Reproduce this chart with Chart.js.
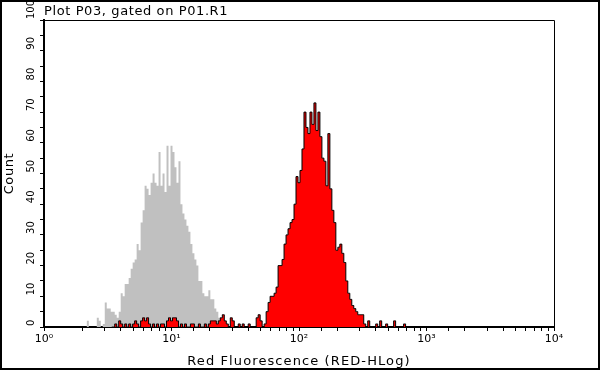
<!DOCTYPE html>
<html>
<head>
<meta charset="utf-8">
<script src="https://cdn.jsdelivr.net/npm/chart.js@4.4.1/dist/chart.umd.min.js"></script>
<style>
  body { margin: 0; background: #fff; }
  canvas { display: block; }
</style>
</head>
<body>
<canvas id="plot" width="600" height="371"></canvas>
<script>
// histogram channels: 64 per decade, 4 decades (10^0 .. 10^4)
const chPerDecade = 64;
const plotTitle = 'Plot P03, gated on P01.R1';
const xTitle = 'Red Fluorescence (RED-HLog)';
const yTitle = 'Count';
const xTickLabels = { 1: '10\u2070', 10: '10\u00b9', 100: '10\u00b2', 1000: '10\u00b3', 10000: '10\u2074' };

// control (gray), starts at channel 20
const grayFrom = 20;
const grayCounts = [
  0, 0, 2, 0, 0, 0, 0, 3, 2, 0,
  1, 8, 6, 6, 5, 5, 4, 3, 5, 11,
  10, 14, 14, 16, 19, 21, 22, 27, 25, 34,
  38, 46, 45, 43, 47, 50, 47, 46, 57, 46,
  50, 44, 59, 46, 59, 57, 52, 47, 54, 40,
  37, 35, 33, 31, 27, 24, 22, 20, 15, 15,
  11, 10, 10, 12, 9, 9, 6, 5, 3, 1,
  1, 0, 1, 0, 1, 0
];

// stained sample (red), starts at channel 34
const redFrom = 34;
const redCounts = [
  0, 0, 1, 0, 2, 1, 0, 1, 0, 1,
  0, 1, 2, 1, 0, 2, 3, 2, 3, 1,
  0, 1, 0, 1, 0, 1, 1, 0, 2, 3,
  2, 3, 3, 2, 0, 1, 0, 1, 0, 0,
  1, 1, 0, 0, 1, 0, 0, 1, 0, 1,
  2, 2, 2, 1, 2, 3, 4, 2, 1, 0,
  3, 2, 0, 0, 1, 0, 1, 0, 0, 1,
  0, 0, 0, 3, 4, 2, 0, 1, 5, 8,
  10, 10, 11, 13, 20, 20, 22, 27, 30, 32,
  34, 35, 40, 49, 47, 51, 58, 70, 65, 63,
  70, 66, 73, 64, 70, 62, 55, 54, 46, 63,
  45, 38, 34, 25, 26, 27, 24, 21, 15, 11,
  9, 7, 6, 5, 4, 4, 4, 1, 0, 2,
  0, 0, 0, 1, 0, 2, 0, 0, 1, 0,
  0, 0, 2, 0, 0, 0, 0, 1, 0
];

function toPoints(from, counts) {
  return counts.map((c, i) => ({ x: Math.pow(10, (from + i) / chPerDecade), y: c }));
}

const framePlugin = {
  id: 'frame',
  afterDraw(chart) {
    const { ctx, chartArea: a, scales: { y } } = chart;
    ctx.save();
    // top + right edge of the plot box
    ctx.strokeStyle = '#000';
    ctx.lineWidth = 1;
    ctx.beginPath();
    ctx.moveTo(a.left, a.top + 0.5);
    ctx.lineTo(a.right + 0.5, a.top + 0.5);
    ctx.lineTo(a.right + 0.5, a.bottom);
    ctx.stroke();

    // y tick labels, rotated, starting at the tick
    ctx.fillStyle = '#000';
    ctx.font = '10px "DejaVu Sans"';
    ctx.textAlign = 'left';
    ctx.textBaseline = 'middle';
    y.ticks.forEach(t => {
      if (t.value % 10 !== 0) return;
      ctx.save();
      ctx.translate(31, y.getPixelForValue(t.value));
      ctx.rotate(-Math.PI / 2);
      ctx.fillText(String(t.value), 1, 0);
      ctx.restore();
    });

    // titles (wide Verdana-like spacing)
    ctx.font = '13px "DejaVu Sans"';
    ctx.letterSpacing = '0.6px';
    ctx.textBaseline = 'alphabetic';
    ctx.fillText(plotTitle, 44, 15);

    ctx.textAlign = 'center';
    ctx.letterSpacing = '1.1px';
    ctx.fillText(xTitle, (a.left + a.right) / 2, 365);

    ctx.letterSpacing = '0.6px';
    ctx.textBaseline = 'middle';
    ctx.save();
    ctx.translate(10, (a.top + a.bottom) / 2);
    ctx.rotate(-Math.PI / 2);
    ctx.fillText(yTitle, 0, 0);
    ctx.restore();

    // outer border
    ctx.letterSpacing = '0px';
    ctx.lineWidth = 2;
    ctx.strokeRect(1, 1, 598, 368);
    ctx.restore();
  }
};

Chart.defaults.font.family = '"DejaVu Sans"';
Chart.defaults.color = '#000';

new Chart(document.getElementById('plot'), {
  type: 'line',
  data: {
    datasets: [
      {
        label: 'control',
        data: toPoints(grayFrom, grayCounts),
        backgroundColor: '#c0c0c0',
        borderColor: '#c0c0c0',
        borderWidth: 0,
        fill: 'origin',
        stepped: 'middle',
        pointRadius: 0,
        order: 2
      },
      {
        label: 'sample',
        data: toPoints(redFrom, redCounts),
        backgroundColor: '#ff0000',
        borderColor: '#000',
        borderWidth: 1,
        fill: 'origin',
        stepped: 'middle',
        pointRadius: 0,
        order: 1
      }
    ]
  },
  options: {
    responsive: false,
    animation: false,
    layout: { padding: { top: 20, right: 46, left: 0, bottom: 0 } },
    plugins: { legend: { display: false }, tooltip: { enabled: false } },
    scales: {
      x: {
        type: 'logarithmic',
        min: 1,
        max: 10000,
        afterFit: s => { s.height = 44; },
        border: { display: true, color: '#000', width: 2 },
        grid: { drawOnChartArea: false, drawTicks: true, tickLength: 4, color: '#000' },
        ticks: {
          autoSkip: false,
          maxRotation: 0,
          padding: 2,
          font: { size: 11 },
          callback: v => xTickLabels[v] || ''
        },
        title: { display: false }
      },
      y: {
        min: 0,
        max: 100,
        afterFit: s => { s.width = 44; },
        border: { display: true, color: '#000', width: 2 },
        grid: { drawOnChartArea: false, drawTicks: true, tickLength: 4, color: '#000' },
        ticks: { stepSize: 5, display: false },
        title: { display: false }
      }
    }
  },
  plugins: [framePlugin]
});
</script>
</body>
</html>
